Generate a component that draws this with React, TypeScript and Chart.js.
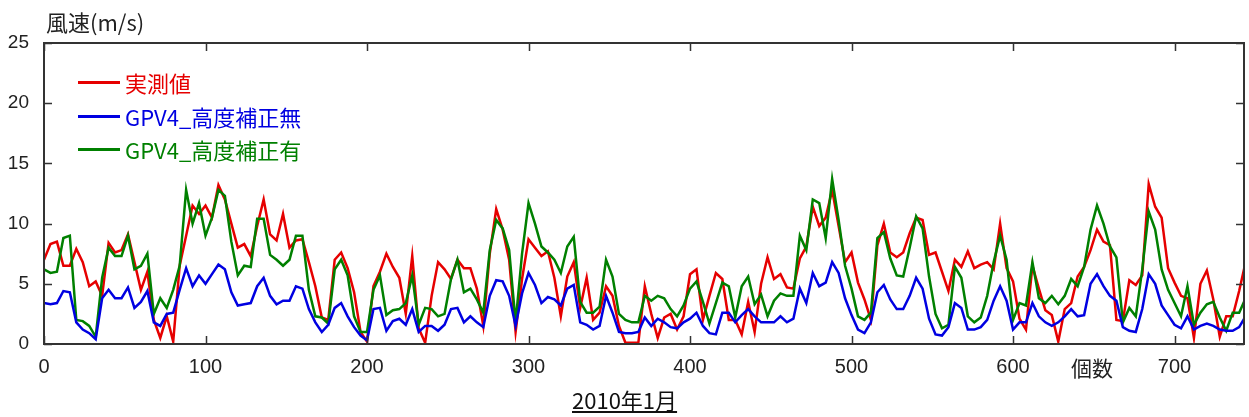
import React, { useEffect, useRef } from "react";
import { Chart, registerables } from "chart.js";

Chart.register(...registerables);

// Hours between samples (values read every 4 hours from the reference)
const STEP_HOURS = 4;

// 実測値 (measured wind speed, m/s)
const measured = [
  7.0, 8.3, 8.5, 6.5, 6.5, 7.9, 6.8, 4.8, 5.2, 4.0,
  8.4, 7.6, 7.8, 9.1, 6.8, 4.5, 6.0, 2.0, 0.5, 2.3,
  0.2, 6.5, 9.0, 11.5, 10.8, 11.5, 10.5, 13.2, 12.0, 10.0,
  8.0, 8.3, 7.3, 9.8, 12.0, 9.1, 8.6, 10.8, 8.0, 8.6,
  8.7, 6.8, 4.8, 2.2, 2.0, 7.0, 7.6, 6.3, 4.3, 1.0,
  0.2, 4.8, 6.0, 7.5, 6.4, 5.5, 2.5, 7.3, 1.3, 0.1,
  4.0, 6.8, 6.2, 5.4, 7.0, 6.3, 6.3, 4.6, 1.5, 7.5,
  11.2, 9.5, 7.0, 1.0, 5.4, 8.7, 8.0, 7.3, 7.7, 5.5,
  2.3, 5.6, 6.8, 3.0, 5.5, 2.0, 2.6, 4.8, 4.0, 1.5,
  0.1, 0.1, 0.1, 4.8, 2.5, 0.5, 2.2, 2.5, 1.2, 2.3,
  5.8, 6.2, 2.0, 4.0, 5.9, 5.4, 2.0, 2.0, 0.8, 3.5,
  1.0, 5.0, 7.2, 5.4, 5.8, 4.7, 4.6, 7.1, 8.1, 11.4,
  9.8, 10.5, 12.8, 9.8, 6.8, 7.6, 5.1, 3.7, 2.0, 8.2,
  10.0, 7.6, 7.2, 7.6, 9.2, 10.5, 10.3, 7.4, 7.6, 6.0,
  4.4, 7.0, 6.4, 7.7, 6.3, 6.6, 6.8, 6.2, 10.0, 6.3,
  5.2, 2.1, 1.2, 6.5, 4.6, 2.8, 2.4, 0.2, 2.9, 3.4,
  5.6, 6.4, 7.8, 9.5, 8.5, 8.2, 2.0, 1.9, 5.3, 4.9,
  5.7, 13.3, 11.4, 10.5, 6.3, 5.1, 4.0, 3.8, 0.5, 5.0,
  6.1, 3.7, 0.6, 2.3, 2.3, 4.4, 6.8,
];

// GPV4_高度補正無
const gpvNoCorrection = [
  3.4, 3.3, 3.4, 4.4, 4.3, 1.8, 1.2, 0.9, 0.4, 3.8,
  4.5, 3.8, 3.8, 4.7, 3.0, 3.5, 4.4, 1.8, 1.5, 2.5,
  2.6, 4.5, 6.3, 4.8, 5.7, 5.0, 5.8, 6.6, 6.2, 4.3,
  3.2, 3.3, 3.4, 4.8, 5.5, 4.0, 3.3, 3.6, 3.6, 4.8,
  4.6, 2.9, 1.8, 1.0, 1.6, 3.0, 3.4, 2.3, 1.4, 0.7,
  0.3, 2.9, 3.0, 1.1, 1.9, 2.1, 1.6, 2.9, 1.0, 1.5,
  1.5, 1.1, 1.6, 2.9, 3.0, 1.8, 2.3, 1.8, 1.4, 4.0,
  5.3, 5.2, 4.0, 1.5, 4.2, 5.9, 4.9, 3.4, 3.9, 3.7,
  3.2, 4.6, 4.9, 1.8, 1.6, 1.2, 1.5, 4.0, 2.6, 1.0,
  0.9, 0.9, 1.0, 2.2, 1.5, 2.1, 1.8, 1.4, 1.3, 1.8,
  2.1, 2.6, 1.5, 0.9, 0.8, 2.6, 2.6, 1.8, 2.4, 2.9,
  2.3, 1.8, 1.8, 1.8, 2.3, 1.8, 2.1, 4.6, 3.4, 5.9,
  4.8, 5.1, 6.8, 5.9, 3.8, 2.4, 1.2, 0.9, 1.8, 4.3,
  4.9, 3.7, 2.9, 2.9, 4.0, 5.5, 4.6, 2.1, 0.8, 0.7,
  1.4, 3.4, 3.0, 1.2, 1.2, 1.4, 2.0, 3.6, 4.8, 3.6,
  1.2, 1.8, 1.8, 3.4, 2.3, 1.8, 1.5, 1.8, 2.3, 2.9,
  2.3, 2.4, 5.0, 5.8, 4.8, 4.0, 3.6, 1.4, 1.1, 1.0,
  2.9, 5.8, 5.0, 3.2, 2.4, 1.6, 1.3, 2.3, 1.2, 1.5,
  1.7, 1.5, 1.2, 1.1, 1.1, 1.4, 2.3,
];

// GPV4_高度補正有
const gpvCorrected = [
  6.2, 5.9, 6.0, 8.8, 9.0, 2.0, 1.9, 1.5, 0.6, 5.5,
  8.0, 7.3, 7.3, 9.0, 6.2, 6.5, 7.5, 2.5, 3.8, 3.0,
  4.5, 6.5, 12.8, 10.0, 11.7, 9.0, 10.5, 12.8, 12.3, 8.5,
  5.7, 6.5, 6.4, 10.4, 10.4, 7.4, 7.0, 6.5, 7.0, 9.0,
  9.0, 4.5, 2.3, 2.2, 1.7, 6.2, 7.0, 5.7, 2.3, 1.0,
  1.0, 4.5, 5.7, 2.4, 2.8, 2.9, 3.4, 5.7, 1.6, 3.0,
  2.9, 2.3, 2.5, 5.4, 7.0, 4.3, 4.6, 3.7, 2.6, 7.8,
  10.3, 9.6, 7.8, 1.8, 7.5, 11.7, 10.0, 8.1, 7.6, 7.0,
  5.9, 8.1, 8.9, 3.5, 2.6, 2.6, 3.1, 7.0, 5.6, 2.5,
  2.0, 1.8, 1.8, 4.0, 3.6, 4.0, 3.8, 2.9, 2.3, 3.2,
  4.6, 5.2, 3.5, 1.7, 3.4, 5.1, 4.8, 2.2, 4.8, 5.6,
  3.3, 4.1, 2.3, 3.6, 4.2, 4.0, 4.0, 9.0, 7.8, 12.0,
  11.7, 8.8, 13.7, 10.3, 6.5, 4.6, 2.3, 2.0, 2.6, 8.8,
  9.3, 7.1, 5.7, 5.6, 8.0, 10.6, 9.6, 5.6, 2.5, 1.3,
  1.6, 6.4, 5.5, 2.3, 1.8, 2.2, 4.0, 6.8, 9.0, 7.0,
  2.0, 3.4, 3.2, 6.8, 3.8, 3.4, 4.0, 3.3, 4.0, 5.4,
  4.8, 6.4, 9.5, 11.5, 10.0, 8.1, 7.2, 1.8, 3.0, 2.3,
  6.2, 11.0, 9.5, 6.2, 4.5, 3.4, 2.3, 4.8, 1.6, 2.6,
  3.3, 3.5, 2.2, 1.1, 2.6, 2.6, 3.8,
];

const xTickValues = [0, 100, 200, 300, 400, 500, 600, 700];
const yTickValues = [0, 5, 10, 15, 20, 25];
const X_MAX = 743;
const Y_MAX = 25;

const RED = "rgb(230,0,0)";
const BLUE = "rgb(0,0,225)";
const GREEN = "rgb(0,128,0)";

const seriesLabels = ["実測値", "GPV4_高度補正無", "GPV4_高度補正有"];

const NUM_FONT = '"Liberation Sans", Arial, sans-serif';
const TEXT_FONT = '"Noto Sans CJK JP", sans-serif';

const toPoints = (arr: number[]) => arr.map((v, i) => ({ x: i * STEP_HOURS, y: v }));

const framePlugin = {
  id: "frameTicks",
  afterDraw(chart: any) {
    const { ctx, chartArea, scales } = chart;
    const { left, right, top, bottom } = chartArea;
    const len = 8;
    ctx.save();
    ctx.strokeStyle = "#333";
    ctx.lineWidth = 1.5;
    ctx.beginPath();
    scales.x.ticks.forEach((t: any) => {
      const px = Math.round(scales.x.getPixelForValue(t.value)) + 0.5;
      ctx.moveTo(px, bottom);
      ctx.lineTo(px, bottom - len);
      ctx.moveTo(px, top);
      ctx.lineTo(px, top + len);
    });
    scales.y.ticks.forEach((t: any) => {
      const py = Math.round(scales.y.getPixelForValue(t.value)) + 0.5;
      ctx.moveTo(left, py);
      ctx.lineTo(left + len, py);
      ctx.moveTo(right, py);
      ctx.lineTo(right - len, py);
    });
    ctx.stroke();
    ctx.lineWidth = 2;
    ctx.strokeStyle = "#333";
    ctx.strokeRect(left, top, right - left, bottom - top);
    ctx.restore();
  },
};

export default function App() {
  const canvasRef = useRef<HTMLCanvasElement | null>(null);

  useEffect(() => {
    document.body.style.margin = "0";
    const canvas = canvasRef.current;
    if (!canvas) return;
    const chart = new Chart(canvas, {
      type: "line",
      data: {
        datasets: [
          { label: seriesLabels[0], data: toPoints(measured), borderColor: RED, order: 2 },
          { label: seriesLabels[1], data: toPoints(gpvNoCorrection), borderColor: BLUE, order: 0 },
          { label: seriesLabels[2], data: toPoints(gpvCorrected), borderColor: GREEN, order: 1 },
        ].map((d) => ({
          ...d,
          borderWidth: 2.5,
          pointRadius: 0,
          tension: 0,
          fill: false,
        })),
      },
      options: {
        animation: false,
        responsive: false,
        maintainAspectRatio: false,
        layout: { padding: { left: 0, right: 5, top: 43, bottom: 0 } },
        plugins: {
          legend: { display: false },
          tooltip: { enabled: false },
          title: { display: false },
        },
        scales: {
          x: {
            type: "linear",
            min: 0,
            max: X_MAX,
            afterBuildTicks: (scale: any) => {
              scale.ticks = xTickValues.map((v) => ({ value: v }));
            },
            afterFit: (scale: any) => {
              scale.height = 73;
            },
            grid: { display: false, drawTicks: false },
            border: { display: false },
            ticks: {
              padding: 11,
              color: "#222",
              font: { family: NUM_FONT, size: 20 },
              maxRotation: 0,
              autoSkip: false,
            },
          },
          y: {
            min: 0,
            max: Y_MAX,
            afterBuildTicks: (scale: any) => {
              scale.ticks = yTickValues.map((v) => ({ value: v }));
            },
            afterFit: (scale: any) => {
              scale.width = 44;
            },
            grid: { display: false, drawTicks: false },
            border: { display: false },
            ticks: {
              padding: 15,
              color: "#222",
              font: { family: NUM_FONT, size: 19 },
            },
          },
        },
      },
      plugins: [framePlugin],
    });
    return () => chart.destroy();
  }, []);

  const legendRows = [
    { label: seriesLabels[0], color: RED, y: 82 },
    { label: seriesLabels[1], color: BLUE, y: 116 },
    { label: seriesLabels[2], color: GREEN, y: 149 },
  ];

  return (
    <div
      style={{
        position: "fixed",
        left: 0,
        top: 0,
        width: 1249,
        height: 417,
        background: "#fff",
        overflow: "hidden",
      }}
    >
      <canvas ref={canvasRef} width={1249} height={417} style={{ display: "block" }} />
      <div
        style={{
          position: "absolute",
          left: 46,
          top: 9,
          fontFamily: TEXT_FONT,
          fontSize: 22,
          lineHeight: "24px",
          color: "#222",
          whiteSpace: "nowrap",
        }}
      >
        風速(m/s)
      </div>
      {legendRows.map((r) => (
        <div key={r.label}>
          <div
            style={{
              position: "absolute",
              left: 78,
              top: r.y - 1,
              width: 42,
              height: 2.5,
              background: r.color,
            }}
          />
          <div
            style={{
              position: "absolute",
              left: 125,
              top: r.y - 12,
              fontFamily: TEXT_FONT,
              fontSize: 22,
              lineHeight: "24px",
              color: r.color,
              whiteSpace: "nowrap",
            }}
          >
            {r.label}
          </div>
        </div>
      ))}
      <div
        style={{
          position: "absolute",
          left: 1071,
          top: 355,
          fontFamily: TEXT_FONT,
          fontSize: 21,
          lineHeight: "24px",
          color: "#222",
          whiteSpace: "nowrap",
        }}
      >
        個数
      </div>
      <div
        style={{
          position: "absolute",
          left: 572,
          top: 387,
          fontFamily: TEXT_FONT,
          fontSize: 22,
          lineHeight: "24px",
          color: "#111",
          whiteSpace: "nowrap",
          textDecoration: "underline",
          textDecorationThickness: 2,
          textUnderlineOffset: 2,
        }}
      >
        2010年1月
      </div>
    </div>
  );
}
